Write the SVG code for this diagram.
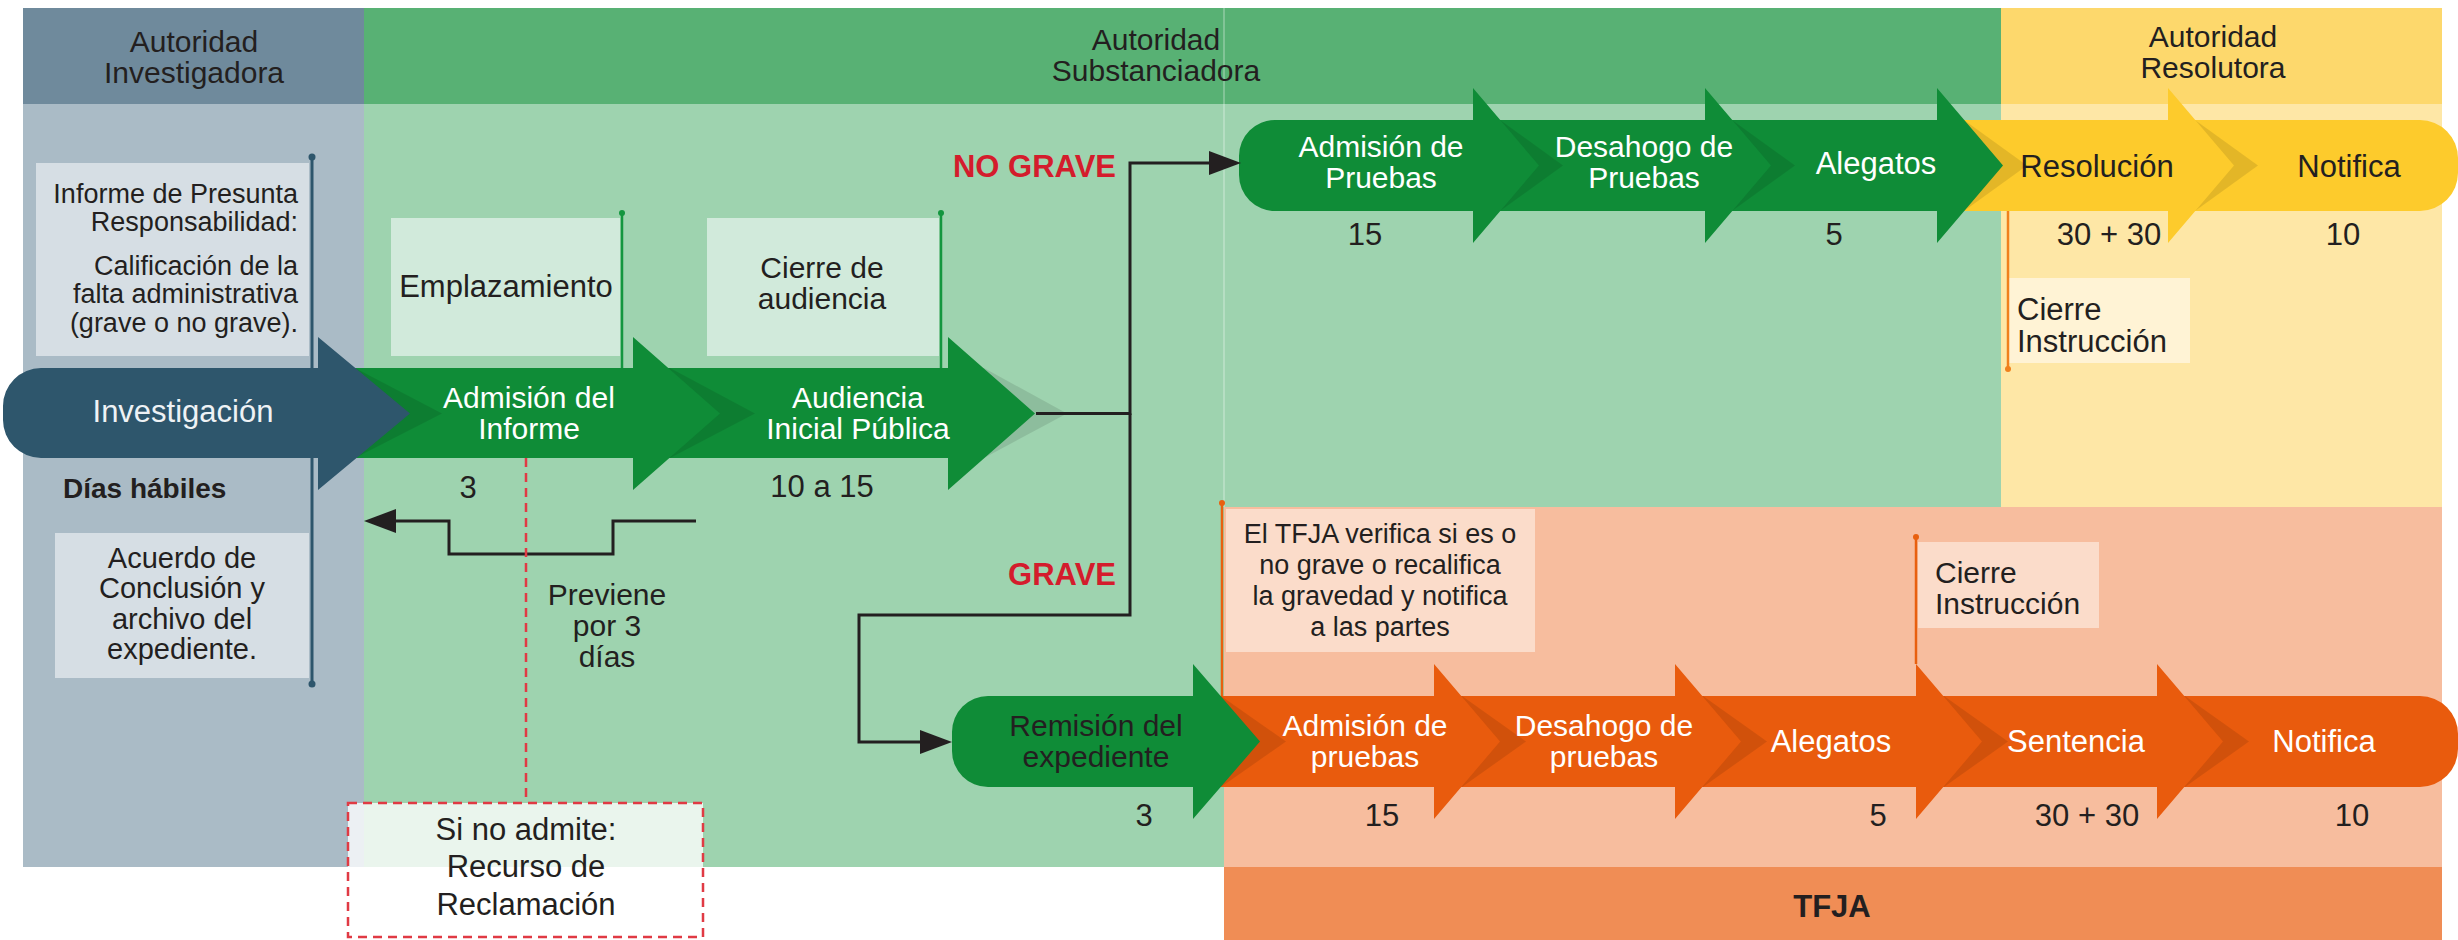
<svg xmlns="http://www.w3.org/2000/svg" width="2458" height="940" viewBox="0 0 2458 940">
<defs>
<style>
.t{font-family:"Liberation Sans",Arial,sans-serif;font-size:31px;fill:#231f20}
.c{text-anchor:middle}
.e{text-anchor:end}
.w{fill:#ffffff}
.b{font-weight:bold}
.s27{font-size:27px}
.s29{font-size:29px}
.s30{font-size:30px}
.red{fill:#d41c2c}
.sh{fill:#000000;fill-opacity:0.1}
.ag{fill:#0f8c37}
.ay{fill:#fdcb2c}
.ao{fill:#e95b0d}
.as{fill:#2e566c}
.conn{fill:none;stroke:#231f20;stroke-width:3}
</style>
<marker id="arr" markerUnits="userSpaceOnUse" markerWidth="32" markerHeight="24" viewBox="0 0 32 24" refX="22" refY="12" orient="auto">
<path d="M0,0 L32,12 L0,24 Z" fill="#231f20"/>
</marker>
</defs>

<g id="background">
<rect x="23" y="8" width="341" height="96" fill="#6f8a9c"/>
<rect x="364" y="8" width="1637" height="96" fill="#58b174"/>
<rect x="2001" y="8" width="441" height="96" fill="#fdd86c"/>
<rect x="23" y="104" width="341" height="763" fill="#aabbc6"/>
<rect x="364" y="104" width="1637" height="403" fill="#9ed3af"/>
<rect x="364" y="507" width="860" height="360" fill="#9ed3af"/>
<rect x="2001" y="104" width="441" height="403" fill="#fee7a6"/>
<rect x="1224" y="507" width="1218" height="360" fill="#f7bd9e"/>
<rect x="1224" y="867" width="1218" height="73" fill="#f08d55"/>
<line x1="1224" y1="8" x2="1224" y2="507" stroke="#ffffff" stroke-opacity="0.25" stroke-width="2"/>
</g>

<g id="headers">
<text class="t c s30" x="194" y="52">Autoridad<tspan x="194" dy="31">Investigadora</tspan></text>
<text class="t c s30" x="1156" y="50">Autoridad<tspan x="1156" dy="31">Substanciadora</tspan></text>
<text class="t c s30" x="2213" y="47">Autoridad<tspan x="2213" dy="31">Resolutora</tspan></text>
<text class="t c b" x="1832" y="917">TFJA</text>
</g>

<g id="note-informe">
<rect x="36" y="163" width="273" height="193" fill="#d6dee4"/>
<line x1="312" y1="157" x2="312" y2="684" stroke="#2e566c" stroke-width="3"/>
<circle cx="312" cy="157" r="3.5" fill="#2e566c"/>
<circle cx="312" cy="684" r="3.5" fill="#2e566c"/>
<text class="t e s27" x="298" y="203">Informe de Presunta<tspan x="298" dy="28">Responsabilidad:</tspan><tspan x="298" dy="44">Calificación de la</tspan><tspan x="298" dy="28">falta administrativa</tspan><tspan x="298" dy="29">(grave o no grave).</tspan></text>
</g>

<g id="note-acuerdo">
<rect x="55" y="533" width="254" height="145" fill="#d6dee4"/>
<text class="t c s29" x="182" y="568">Acuerdo de<tspan x="182" dy="30">Conclusión y</tspan><tspan x="182" dy="31">archivo del</tspan><tspan x="182" dy="30">expediente.</tspan></text>
</g>

<g id="dias-habiles">
<text class="t b" x="63" y="498" style="font-size:28px">Días hábiles</text>
</g>

<g id="note-emplazamiento">
<rect x="391" y="218" width="229" height="138" fill="#d1eadb"/>
<line x1="622" y1="213" x2="622" y2="368" stroke="#14963f" stroke-width="2.5"/>
<circle cx="622" cy="213" r="3" fill="#14963f"/>
<text class="t c" x="506" y="297">Emplazamiento</text>
</g>

<g id="note-cierre-audiencia">
<rect x="707" y="218" width="232" height="138" fill="#d1eadb"/>
<line x1="941" y1="213" x2="941" y2="368" stroke="#14963f" stroke-width="2.5"/>
<circle cx="941" cy="213" r="3" fill="#14963f"/>
<text class="t c s30" x="822" y="278">Cierre de<tspan x="822" dy="31">audiencia</tspan></text>
</g>

<g id="note-cierre-instruccion-1">
<rect x="2009" y="278" width="181" height="85" fill="#fff3d5"/>
<line x1="2008" y1="211" x2="2008" y2="369" stroke="#f0801c" stroke-width="2.5"/>
<circle cx="2008" cy="369" r="3" fill="#f0801c"/>
<text class="t" x="2017" y="320">Cierre<tspan x="2017" dy="32">Instrucción</tspan></text>
</g>

<g id="note-tfja">
<rect x="1226" y="509" width="309" height="143" fill="#fbdcca"/>
<line x1="1222" y1="503" x2="1222" y2="700" stroke="#e8600f" stroke-width="2.5"/>
<circle cx="1222" cy="503" r="3" fill="#e8600f"/>
<text class="t c s27" x="1380" y="543">El TFJA verifica si es o<tspan x="1380" dy="31">no grave o recalifica</tspan><tspan x="1380" dy="31">la gravedad y notifica</tspan><tspan x="1380" dy="31">a las partes</tspan></text>
</g>

<g id="note-cierre-instruccion-2">
<rect x="1918" y="542" width="181" height="86" fill="#fbdcca"/>
<line x1="1916" y1="537" x2="1916" y2="664" stroke="#e8600f" stroke-width="2.5"/>
<circle cx="1916" cy="537" r="3" fill="#e8600f"/>
<text class="t s30" x="1935" y="583">Cierre<tspan x="1935" dy="31">Instrucción</tspan></text>
</g>

<g id="note-recurso">
<rect x="348" y="803" width="355" height="134" fill="#ffffff" fill-opacity="0.78" stroke="#e03a44" stroke-width="2.5" stroke-dasharray="9 6"/>
<text class="t c" x="526" y="840">Si no admite:<tspan x="526" dy="37">Recurso de</tspan><tspan x="526" dy="38">Reclamación</tspan></text>
</g>

<g id="step-audiencia">
<polygon class="sh" points="948,368 984,368 1067,413.5 984,458 948,458"/>
<path class="ag" d="M633,368 H948 V337 L1035,413.5 L948,490 V458 H633 Z"/>
<text class="t c w s30" x="858" y="408">Audiencia<tspan x="858" dy="31">Inicial Pública</tspan></text>
<text class="t c" x="822" y="497">10 a 15</text>
</g>
<g id="step-admision-informe">
<polygon class="sh" points="633,368 670,368 755,413.5 670,458 633,458"/>
<path class="ag" d="M318,368 H633 V337 L720,413.5 L633,490 V458 H318 Z"/>
<text class="t c w s30" x="529" y="408">Admisión del<tspan x="529" dy="31">Informe</tspan></text>
<text class="t c" x="468" y="498">3</text>
</g>
<g id="step-investigacion">
<polygon class="sh" points="318,368 355,368 442,413.5 355,458 318,458"/>
<path class="as" d="M41,368 H318 V337 L410,413.5 L318,490 V458 H41 A38,38 0 0 1 3,420 V406 A38,38 0 0 1 41,368 Z"/>
<text class="t c" x="183" y="422" style="fill:#eef2f5">Investigación</text>
</g>

<g id="step-u-notifica">
<path class="ay" d="M2168,120 H2420 A38,38 0 0 1 2458,158 V173 A38,38 0 0 1 2420,211 H2168 Z"/>
<text class="t c" x="2349" y="177">Notifica</text>
<text class="t c" x="2343" y="245">10</text>
</g>
<g id="step-u-resolucion">
<polygon class="sh" points="2168,120 2195,120 2258,165.5 2195,211 2168,211"/>
<path class="ay" d="M1937,120 H2168 V88 L2234,165.5 L2168,243 V211 H1937 Z"/>
<text class="t c" x="2097" y="177">Resolución</text>
<text class="t c" x="2109" y="245">30 + 30</text>
</g>
<g id="step-u-alegatos">
<polygon class="sh" points="1937,120 1964,120 2027,165.5 1964,211 1937,211"/>
<path class="ag" d="M1705,120 H1937 V88 L2003,165.5 L1937,243 V211 H1705 Z"/>
<text class="t c w" x="1876" y="174">Alegatos</text>
<text class="t c" x="1834" y="245">5</text>
</g>
<g id="step-u-desahogo">
<polygon class="sh" points="1705,120 1732,120 1795,165.5 1732,211 1705,211"/>
<path class="ag" d="M1473,120 H1705 V88 L1771,165.5 L1705,243 V211 H1473 Z"/>
<text class="t c w s30" x="1644" y="157">Desahogo de<tspan x="1644" dy="31">Pruebas</tspan></text>
</g>
<g id="step-u-admision">
<polygon class="sh" points="1473,120 1500,120 1563,165.5 1500,211 1473,211"/>
<path class="ag" d="M1275,120 H1473 V88 L1539,165.5 L1473,243 V211 H1275 A36,36 0 0 1 1239,175 V156 A36,36 0 0 1 1275,120 Z"/>
<text class="t c w s30" x="1381" y="157">Admisión de<tspan x="1381" dy="31">Pruebas</tspan></text>
<text class="t c" x="1365" y="245">15</text>
</g>

<g id="step-g-notifica">
<path class="ao" d="M2157,696 H2420 A38,38 0 0 1 2458,734 V749 A38,38 0 0 1 2420,787 H2157 Z"/>
<text class="t c w" x="2324" y="752">Notifica</text>
<text class="t c" x="2352" y="826">10</text>
</g>
<g id="step-g-sentencia">
<polygon class="sh" points="2157,696 2185,696 2249,741.5 2185,787 2157,787"/>
<path class="ao" d="M1916,696 H2157 V664 L2223,741.5 L2157,819 V787 H1916 Z"/>
<text class="t c w" x="2076" y="752">Sentencia</text>
<text class="t c" x="2087" y="826">30 + 30</text>
</g>
<g id="step-g-alegatos">
<polygon class="sh" points="1916,696 1944,696 2008,741.5 1944,787 1916,787"/>
<path class="ao" d="M1675,696 H1916 V664 L1982,741.5 L1916,819 V787 H1675 Z"/>
<text class="t c w" x="1831" y="752">Alegatos</text>
<text class="t c" x="1878" y="826">5</text>
</g>
<g id="step-g-desahogo">
<polygon class="sh" points="1675,696 1703,696 1767,741.5 1703,787 1675,787"/>
<path class="ao" d="M1434,696 H1675 V664 L1741,741.5 L1675,819 V787 H1434 Z"/>
<text class="t c w s30" x="1604" y="736">Desahogo de<tspan x="1604" dy="31">pruebas</tspan></text>
</g>
<g id="step-g-admision">
<polygon class="sh" points="1434,696 1462,696 1526,741.5 1462,787 1434,787"/>
<path class="ao" d="M1193,696 H1434 V664 L1500,741.5 L1434,819 V787 H1193 Z"/>
<text class="t c w s30" x="1365" y="736">Admisión de<tspan x="1365" dy="31">pruebas</tspan></text>
<text class="t c" x="1382" y="826">15</text>
</g>
<g id="step-g-remision">
<polygon class="sh" points="1193,696 1221,696 1286,741.5 1221,787 1193,787"/>
<path class="ag" d="M988,696 H1193 V664 L1260,741.5 L1193,819 V787 H988 A36,36 0 0 1 952,751 V732 A36,36 0 0 1 988,696 Z"/>
<text class="t c s30" x="1096" y="736">Remisión del<tspan x="1096" dy="31">expediente</tspan></text>
<text class="t c" x="1144" y="826">3</text>
</g>

<g id="connectors">
<path class="conn" d="M1036,413.5 H1130 V163 H1231" marker-end="url(#arr)"/>
<path class="conn" d="M1130,413.5 V615 H859 V742 H942" marker-end="url(#arr)"/>
<path class="conn" d="M696,521 H613 V554 H449 V521 H374" marker-end="url(#arr)"/>
<line x1="526" y1="458" x2="526" y2="803" stroke="#e03a44" stroke-width="2.5" stroke-dasharray="9 6"/>
</g>

<g id="labels">
<text class="t e b red" x="1116" y="177">NO GRAVE</text>
<text class="t e b red" x="1116" y="585">GRAVE</text>
<text class="t c s30" x="607" y="605">Previene<tspan x="607" dy="31">por 3</tspan><tspan x="607" dy="31">días</tspan></text>
</g>
</svg>
